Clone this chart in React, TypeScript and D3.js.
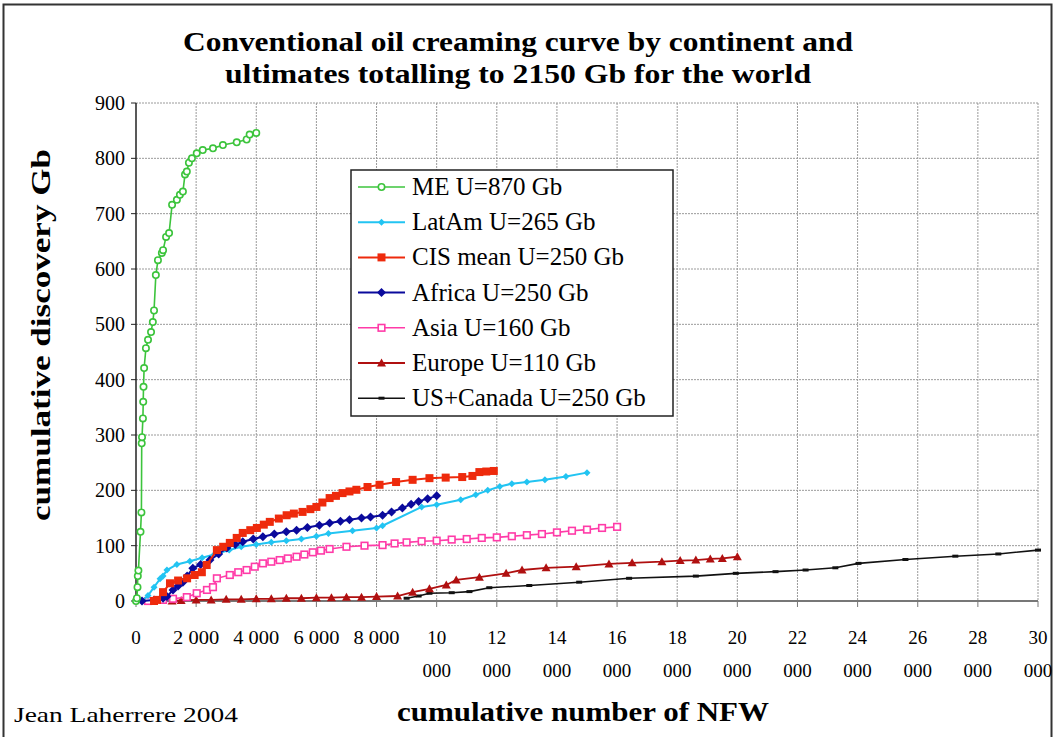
import React from "react";
import * as d3 from "d3";

// ---------- data ----------
const titleLines = [
  "Conventional oil creaming curve by continent and",
  "ultimates totalling to 2150 Gb for the world",
];
const yAxisTitle = "cumulative discovery Gb";
const xAxisTitle = "cumulative number of NFW";
const credit = "Jean Laherrere 2004";

const xTicks = [0, 2000, 4000, 6000, 8000, 10000, 12000, 14000, 16000, 18000, 20000, 22000, 24000, 26000, 28000, 30000];
const xTickLabels = ["0", "2 000", "4 000", "6 000", "8 000", "10 000", "12 000", "14 000", "16 000", "18 000", "20 000", "22 000", "24 000", "26 000", "28 000", "30 000"];
const yTicks = [0, 100, 200, 300, 400, 500, 600, 700, 800, 900];

const seriesNames = [
  "ME U=870 Gb",
  "LatAm U=265 Gb",
  "CIS mean U=250 Gb",
  "Africa U=250 Gb",
  "Asia U=160 Gb",
  "Europe U=110 Gb",
  "US+Canada U=250 Gb",
];

const meData: [number, number][] = [
  [0, 0], [30, 5], [50, 25], [60, 45], [80, 55], [150, 125], [180, 160], [190, 285], [200, 296],
  [230, 330], [240, 360], [250, 387], [270, 421], [330, 457], [400, 472], [500, 486], [560, 504],
  [600, 525], [660, 589], [730, 616], [860, 629], [900, 634], [1000, 658], [1100, 665], [1200, 716],
  [1360, 725], [1460, 734], [1560, 740], [1630, 771], [1690, 776], [1760, 792], [1860, 800],
  [2020, 809], [2220, 815], [2560, 818], [2890, 824], [3350, 829], [3680, 834], [3780, 843], [4000, 846],
];

const latAmData: [number, number][] = [
  [200, 0], [400, 10], [600, 25], [800, 40], [900, 45], [1030, 56], [1360, 66], [1790, 72], [2200, 78],
  [2600, 84], [3100, 92], [3500, 98], [4000, 102], [4500, 106], [5000, 109], [5500, 112], [6000, 117],
  [6400, 122], [7200, 127], [8000, 132], [8200, 136], [9500, 170], [10000, 174], [10800, 183],
  [11300, 192], [11700, 200], [12100, 207], [12500, 212], [13000, 215], [13600, 219], [14300, 225], [15000, 232],
];

const cisData: [number, number][] = [
  [600, 0], [700, 2], [900, 16], [1130, 32], [1400, 37], [1700, 41], [1950, 47], [2190, 52], [2350, 65],
  [2690, 92], [2900, 98], [3120, 105], [3350, 114], [3550, 123], [3800, 128], [4020, 132], [4250, 138],
  [4450, 143], [4750, 149], [5010, 155], [5250, 158], [5540, 161], [5800, 166], [6000, 170], [6200, 178],
  [6440, 186], [6650, 190], [6870, 195], [7100, 198], [7330, 201], [7700, 206], [8100, 210], [8650, 215],
  [9200, 219], [9760, 222], [10300, 223], [10850, 224], [11190, 226], [11420, 233], [11650, 234], [11900, 235],
];

const africaData: [number, number][] = [
  [200, 0], [600, 2], [900, 5], [1030, 8], [1230, 20], [1400, 27], [1560, 34], [1700, 45], [1890, 59],
  [2150, 66], [2460, 74], [2750, 85], [3020, 96], [3300, 102], [3550, 107], [3900, 112], [4220, 116],
  [4600, 121], [5000, 125], [5340, 128], [5700, 133], [6100, 137], [6440, 141], [6800, 144], [7100, 147],
  [7500, 150], [7800, 152], [8200, 155], [8500, 161], [8860, 168], [9150, 175], [9400, 180], [9700, 185], [10000, 190],
];

const asiaData: [number, number][] = [
  [400, 0], [900, 2], [1230, 4], [1690, 7], [2020, 14], [2360, 20], [2560, 25], [2690, 41], [3120, 47],
  [3400, 52], [3680, 56], [3950, 62], [4220, 68], [4500, 71], [4780, 74], [5050, 77], [5340, 80], [5600, 84],
  [5880, 88], [6150, 91], [6440, 94], [7000, 98], [7600, 100], [8200, 101], [8600, 104], [9000, 106],
  [9500, 108], [10000, 109], [10500, 111], [11000, 112], [11500, 114], [12000, 115], [12500, 117],
  [13000, 119], [13500, 121], [14000, 124], [14500, 127], [15000, 129], [15500, 132], [16000, 134],
];

const europeData: [number, number][] = [
  [1200, 0], [1500, 1], [2000, 2], [2500, 2], [3000, 3], [3500, 3], [4000, 4], [4500, 4], [5000, 5],
  [5500, 5], [6000, 6], [6500, 6], [7000, 7], [7500, 7], [8000, 8], [8700, 9], [9200, 16], [9760, 22],
  [10320, 29], [10650, 38], [11420, 43], [12310, 50], [12840, 56], [13640, 60], [14640, 62], [15730, 67],
  [16500, 69], [17490, 71], [18100, 73], [18620, 74], [19100, 76], [19500, 77], [20000, 80],
];

const usData: [number, number][] = [
  [9000, 5], [9400, 9], [9760, 14], [10500, 15], [11090, 17], [11750, 24], [13080, 28], [14740, 34],
  [16400, 41], [18620, 45], [19950, 50], [21270, 53], [22270, 56], [23260, 60], [24030, 68], [25590, 75],
  [27250, 81], [28680, 85], [30000, 92],
];

// ---------- styles ----------
type Shape = "circle" | "diamond" | "square" | "openSquare" | "triangle" | "dash" | "smallDiamond";
const seriesList: { name: string; data: [number, number][]; color: string; width: number; shape: Shape }[] = [
  { name: seriesNames[6], data: usData, color: "#111111", width: 1.6, shape: "dash" },
  { name: seriesNames[5], data: europeData, color: "#b01010", width: 1.8, shape: "triangle" },
  { name: seriesNames[4], data: asiaData, color: "#ff3ba8", width: 1.6, shape: "openSquare" },
  { name: seriesNames[1], data: latAmData, color: "#22c4f2", width: 2, shape: "smallDiamond" },
  { name: seriesNames[3], data: africaData, color: "#0a0a9c", width: 2, shape: "diamond" },
  { name: seriesNames[2], data: cisData, color: "#ee2a0c", width: 2, shape: "square" },
  { name: seriesNames[0], data: meData, color: "#3cc43c", width: 1.6, shape: "circle" },
];
const legendOrder = [6, 3, 5, 4, 2, 1, 0];

const W = 1056;
const H = 737;
const M = { left: 136, right: 1038, top: 103, bottom: 601 };

function Marker({ shape, x, y, color }: { shape: Shape; x: number; y: number; color: string }) {
  switch (shape) {
    case "circle":
      return <circle cx={x} cy={y} r={3.2} fill="#fff" stroke={color} strokeWidth={1.6} />;
    case "square":
      return <rect x={x - 4} y={y - 4} width={8} height={8} fill={color} />;
    case "openSquare":
      return <rect x={x - 3.3} y={y - 3.3} width={6.6} height={6.6} fill="#fff" stroke={color} strokeWidth={1.6} />;
    case "diamond":
      return <path d={`M${x},${y - 4.5}L${x + 4.5},${y}L${x},${y + 4.5}L${x - 4.5},${y}Z`} fill={color} />;
    case "smallDiamond":
      return <path d={`M${x},${y - 3.5}L${x + 3.5},${y}L${x},${y + 3.5}L${x - 3.5},${y}Z`} fill={color} />;
    case "triangle":
      return <path d={`M${x},${y - 4.5}L${x + 4.5},${y + 3.5}L${x - 4.5},${y + 3.5}Z`} fill={color} />;
    case "dash":
      return <rect x={x - 3} y={y - 1.5} width={6} height={3} fill={color} />;
  }
  return null;
}

export default function App() {
  const x = d3.scaleLinear().domain([0, 30000]).range([M.left, M.right]);
  const y = d3.scaleLinear().domain([0, 900]).range([M.bottom, M.top]);
  const line = d3
    .line<[number, number]>()
    .x((d) => x(d[0]))
    .y((d) => y(d[1]));

  const serif = "'Liberation Serif', 'Times New Roman', serif";

  return (
    <svg
      width={W}
      height={H}
      style={{ position: "absolute", left: 0, top: 0, background: "#fff" }}
      fontFamily={serif}
    >
      <rect x={0} y={0} width={W} height={H} fill="#fff" />
      <rect x={3.5} y={4.5} width={1048} height={740} fill="none" stroke="#333" strokeWidth={2} />

      {/* title */}
      {titleLines.map((t, i) => (
        <text
          key={i}
          x={518}
          y={51 + i * 32}
          textAnchor="middle"
          fontWeight="bold"
          fontSize={27}
          textLength={i === 0 ? 670 : 586}
          lengthAdjust="spacingAndGlyphs"
        >
          {t}
        </text>
      ))}

      {/* gridlines */}
      <g stroke="#9a9a9a" strokeWidth={1} strokeDasharray="2,1">
        {yTicks.filter((v) => v > 0).map((v) => (
          <line key={"gy" + v} x1={M.left} x2={M.right} y1={y(v)} y2={y(v)} />
        ))}
        {xTicks.filter((v) => v > 0).map((v) => (
          <line key={"gx" + v} x1={x(v)} x2={x(v)} y1={M.top} y2={M.bottom} />
        ))}
      </g>
      {/* bottom axis */}
      <line x1={M.left} x2={M.right} y1={M.bottom} y2={M.bottom} stroke="#777" strokeWidth={2} />
      {xTicks.map((v) => (
        <line key={"tx" + v} x1={x(v)} x2={x(v)} y1={M.bottom} y2={M.bottom + 6} stroke="#777" strokeWidth={1} />
      ))}
      {/* left axis */}
      <line x1={M.left} x2={M.left} y1={M.top} y2={M.bottom} stroke="#222" strokeWidth={1.5} />
      {yTicks.map((v) => (
        <line key={"ty" + v} x1={M.left - 5} x2={M.left} y1={y(v)} y2={y(v)} stroke="#222" strokeWidth={1} />
      ))}

      {/* y tick labels */}
      {yTicks.map((v) => (
        <text key={"yl" + v} x={125} y={y(v) + 7} textAnchor="end" fontSize={20}>
          {v}
        </text>
      ))}
      {/* x tick labels */}
      {xTicks.map((v, i) => {
        const label = xTickLabels[i];
        if (v < 10000) {
          return (
            <text key={"xl" + v} x={x(v)} y={644} textAnchor="middle" fontSize={19} textLength={label.length > 1 ? 46 : undefined} lengthAdjust="spacingAndGlyphs">
              {label}
            </text>
          );
        }
        const parts = label.split(" ");
        return (
          <g key={"xl" + v}>
            <text x={x(v)} y={644} textAnchor="middle" fontSize={19}>
              {parts[0]}
            </text>
            <text x={x(v)} y={677} textAnchor="middle" fontSize={19}>
              {parts[1]}
            </text>
          </g>
        );
      })}

      {/* axis titles */}
      <text
        transform={`translate(50,${335}) rotate(-90)`}
        textAnchor="middle"
        fontWeight="bold"
        fontSize={27}
        textLength={372}
        lengthAdjust="spacingAndGlyphs"
      >
        {yAxisTitle}
      </text>
      <text x={583} y={721} textAnchor="middle" fontWeight="bold" fontSize={27} textLength={372} lengthAdjust="spacingAndGlyphs">
        {xAxisTitle}
      </text>
      <text x={14} y={722} fontSize={22} textLength={224} lengthAdjust="spacingAndGlyphs">
        {credit}
      </text>

      {/* series */}
      {seriesList.map((s) => (
        <g key={s.name}>
          <path d={line(s.data) || ""} fill="none" stroke={s.color} strokeWidth={s.width} />
          {s.data.map((d, j) => (
            <Marker key={j} shape={s.shape} x={x(d[0])} y={y(d[1])} color={s.color} />
          ))}
        </g>
      ))}

      {/* legend */}
      <g>
        <rect x={351} y={170} width={322} height={246} fill="#fff" stroke="#222" strokeWidth={1.5} />
        {legendOrder.map((si, k) => {
          const s = seriesList[si];
          const cy = 187 + k * 35.2;
          return (
            <g key={"lg" + k}>
              <line x1={358} x2={405} y1={cy} y2={cy} stroke={s.color} strokeWidth={s.width} />
              <Marker shape={s.shape} x={381.5} y={cy} color={s.color} />
              <text x={412} y={cy + 8} fontSize={25}>
                {s.name}
              </text>
            </g>
          );
        })}
      </g>
    </svg>
  );
}
